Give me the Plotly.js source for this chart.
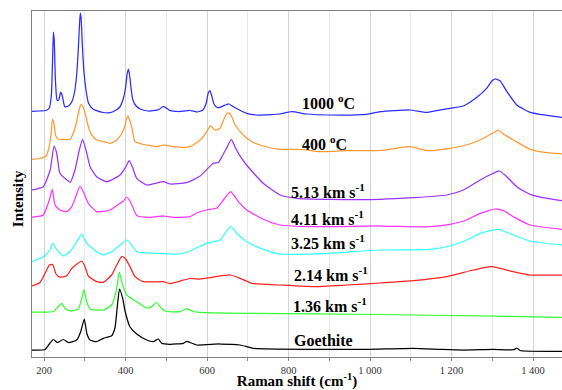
<!DOCTYPE html>
<html>
<head>
<meta charset="utf-8">
<script src="https://cdn.plot.ly/plotly-3.0.1.min.js"></script>
<style>
html,body{margin:0;padding:0;background:#fff;}
#chart{width:562px;height:390px;}
</style>
</head>
<body>
<div id="chart"></div>
<script>
// Raman spectra (stacked, arbitrary intensity units)
const x1000 = [170,190,205,213,218,221,223,225,228,232,236,241,245,251,260,268,275,280,284,287,289,291,294,298,303,309,320,329,345,362,375,386,395,400,404,407,410,414,418,426,436,455,468,482,492,500,510,530,558,575,590,598,603,607,611,617,625,632,645,654,662,675,697,722,760,779,808,845,902,992,1025,1098,1139,1196,1229,1262,1286,1300,1307,1312,1319,1336,1360,1393,1434,1471];
const y1000 = [245.5,246,246.5,249,262,297,325,317,277,257,257,265,261,250.3,251,255,265,282,307,332,344,339,312,285,267,254,248,246.3,244.5,244.3,246.5,250,259,269,283,288,282,267,257,251,248,246,246.3,247.5,250.5,249,246.3,245.5,246.5,245,247,254,264,266.3,262,253,249.5,249.7,252,253,251,248,243.7,242,242.5,243,245.3,243,242,242.7,245.3,247,244.7,248.7,251,259.7,268.7,276.5,278,277.5,276.3,265.3,252,244.7,241.7,239.7];

const x400 = [170,190,205,212,217,221,225,229,235,250,264,272,280,286,291,296,301,306,311,320,329,340,347,355,362,375,386,395,398,403,406,409,415,419,423,440,452,477,493,517,558,583,592,599,609,616,622,632,644,650,655,662,669,689,710,738,779,820,845,877,943,1025,1098,1143,1196,1245,1278,1303,1315,1327,1352,1393,1434,1471];
const y400 = [197.7,198.5,201,209,222,238,232,221,218,217.5,217.7,224,235,247,252.7,250,243.7,235,227,220.5,217,216,215.3,214.5,213.7,216,220.3,227,230.3,239,241.3,238,230.3,222,215.3,213,212,210.3,212,210.3,210.3,217,221,225.3,231.3,228,227,228.7,240.3,244,243.7,239,232,222,215.3,211,207.7,207.7,207,205.3,206.3,206.5,210.3,206.3,208.7,213,218.7,224.3,227,223,217,207.7,204.3,203];

const x513 = [170,198,215,224.5,231,239,256,264,276,286.6,294.5,303,313,329,354,386.5,401,409,418,427.5,452,493,509,550,583,615.5,628,636,648,659.6,668.7,677,697,738,779,820,902,1024.5,1106,1188,1229,1270,1302.6,1316.6,1331,1360,1392.6,1433.6,1471];
const y513 = [167,170.3,187,211,204,183.7,177,174.7,187,207,217.7,207,190.3,180.3,175.3,182,190.3,196.3,188.7,178.7,172,175.3,173,174.3,181,193.7,194.5,200,209,217.7,210,203.7,192,173.7,162,158.7,157.7,157.7,159.3,162,167,177,183.7,186,182,170.3,162.7,158.7,156.3];

const x411 = [170,198,213,220.4,227,239,256,268,278.5,288.3,296.4,308.7,329.3,362,386.5,394.6,403,413.5,427.5,460,492.8,517.3,558,574.7,599,623.8,640,658,676.8,697.4,738,779,861,1024.5,1147,1196,1237,1270,1306.8,1327,1351.7,1392.6,1471];
const y411 = [139.7,142,157,167.7,152,147,145.3,150.3,161,171,165.3,153.7,145.3,147,153.7,156,160,154,141.5,139.7,141,139.7,140.3,144,147,149,157,165.3,155.3,147,137.7,132,130.3,131,130.3,132.7,137,143.7,148,146.3,140.3,132,127.7];

const x325 = [170,198,214.7,221.3,229.4,247.4,263.8,280.2,292.5,304.8,329.3,345.5,366,386.5,403,415.2,427.5,476.6,533.7,558.3,599,632,644,658,672.7,697.4,738,779,902,1024.5,1147,1196,1237,1270,1315,1351.7,1392.6,1471];
const y325 = [95.3,100.3,107,113.7,108.7,101,105.3,115.3,122.7,113.7,105.3,102,105.3,112,117,112,105.3,103.7,103,106,113.7,117,123.7,130.3,123.7,115.3,107.7,103,103.7,107,107.7,111,117,123.7,127.7,122,116,112];

const x214 = [170,190,206.6,213,221.3,229.4,239,255.7,268,280.2,292.5,300.6,308.7,329.3,345.5,366,378.3,390.7,398.8,411,423.3,443.7,492.8,509,558.3,583,611.5,656.4,681,709.7,779,861,942.8,1024.5,1106,1188,1253.5,1298.6,1351.7,1392.6,1471];
const y214 = [71,74.5,87,92,92.5,83,79.8,81.3,88.5,92.7,96,90.3,81,75.3,74.7,82,92,100.3,98.7,90.3,80.3,75.3,75.3,73.5,78.5,78,79.7,82,78.7,73.7,72,70.3,72,74,76.3,80.3,87,90.3,85.3,82,82];

const x136 = [170,222.8,235,243.4,251.5,263.8,284.2,292.5,298.2,304.3,312.9,345.5,366,376.7,384.8,391.4,403,427.5,452,464.3,476.6,484.7,497,533.7,549.6,566.4,583,697.4,1024.5,1471];
const y136 = [45,45.5,50.5,53.7,48.7,46,48,58.7,67.5,56,48,47,52,65.3,85,74,62,55.3,49,50.5,54.5,50.3,46,45.3,48.3,45.5,44.7,43.7,42.5,39.7];

const xGoe = [170,202.5,213,222.8,233,247.4,260,280.2,290,298.7,305.5,312.9,329.3,345.5,366,374,379,385.2,393,398.8,411,427.5,452,468,480.5,488.8,509,541.8,550,558.3,574.7,632,681,713.6,861,992,1106,1172,1229,1302.6,1353.5,1360,1368,1471];
const yGoe = [7,7.5,13,17.5,14.5,17.5,14.5,17,25.3,38,23,17,15.3,18.7,21.3,29,47,68,58.7,46,30,23,17,15.3,18,13.7,12.7,13.7,15.7,14.5,12,13,12,8.7,7.7,7.7,8.7,7.7,7,7.7,7.3,9,6.5,5.7];

const seriesNames = ['1000 oC','400 oC','5.13 km s-1','4.11 km s-1','3.25 km s-1','2.14 km s-1','1.36 km s-1','Goethite'];
const seriesX = [x1000, x400, x513, x411, x325, x214, x136, xGoe];
const seriesY = [y1000, y400, y513, y411, y325, y214, y136, yGoe];
const seriesColors = ['#2b2bff','#ff9933','#9933ff','#ff33ff','#33ffff','#ff2020','#33ff33','#000000'];

const labelText = ['<b>1000 <sup>o</sup>C</b>','<b>400 <sup>o</sup>C</b>','<b>5.13 km s<sup>-1</sup></b>','<b>4.11 km s<sup>-1</sup></b>','<b>3.25 km s<sup>-1</sup></b>','<b>2.14 km s<sup>-1</sup></b>','<b>1.36 km s<sup>-1</sup></b>','<b>Goethite</b>'];
const labelX = [898, 888, 896, 896, 896, 905, 902, 886];
const labelY = [255, 214.5, 166.5, 139.5, 115.3, 83, 52, 17];

const majorTicks = [200,400,600,800,1000,1200,1400];
const majorText = ['200','400','600','800','1 000','1 200','1 400'];
const minorTicks = [300,500,700,900,1100,1300];

const serif = 'Liberation Serif, Times New Roman, serif';

const traces = seriesNames.map((n,i)=>({
  type:'scatter', mode:'lines', name:n,
  x: seriesX[i], y: seriesY[i],
  line:{color: seriesColors[i], width:1.25, shape:'spline', smoothing:0.5},
  hoverinfo:'skip'
}));

const annotations = labelText.map((t,i)=>({
  text:t, x:labelX[i], y:labelY[i], xref:'x', yref:'y',
  showarrow:false, xanchor:'center', yanchor:'middle',
  font:{family:serif, size:16, color:'#000'}
}));
// y-axis title, placed where the reference shows it
annotations.push({
  text:'<b>Intensity</b>', xref:'paper', yref:'paper',
  x:-0.0274, y:0.4575, xanchor:'center', yanchor:'middle',
  textangle:-90, showarrow:false,
  font:{family:serif, size:15, color:'#000'}
});

const layout = {
  width:562, height:390,
  margin:{l:32, r:0, t:11, b:33},
  paper_bgcolor:'#fff', plot_bgcolor:'#fff',
  showlegend:false,
  font:{family:serif, color:'#222'},
  xaxis:{
    range:[170.5,1471],
    tickmode:'array', tickvals:majorTicks, ticktext:majorText,
    ticks:'outside', ticklen:3, tickcolor:'#888',
    ticklabelstandoff:0,
    tickfont:{family:serif, size:10.5, color:'#333'},
    showgrid:true, gridcolor:'#d4d4d4', gridwidth:1,
    minor:{tickmode:'array', tickvals:minorTicks, ticks:'outside', ticklen:3, tickcolor:'#888', showgrid:true, gridcolor:'#e8e8e8', gridwidth:1},
    showline:true, linecolor:'#808080', linewidth:1, mirror:true,
    zeroline:false,
    title:{text:'<b>Raman shift (cm<sup>-1</sup>)</b>', font:{family:serif, size:15, color:'#000'}, standoff:12},
    automargin:false
  },
  yaxis:{
    range:[0,346],
    showticklabels:false, ticks:'', showgrid:false, zeroline:false,
    showline:true, linecolor:'#808080', linewidth:1, mirror:false,
    automargin:false
  },
  annotations: annotations
};

Plotly.newPlot('chart', traces, layout, {staticPlot:true, displayModeBar:false});
</script>
</body>
</html>
